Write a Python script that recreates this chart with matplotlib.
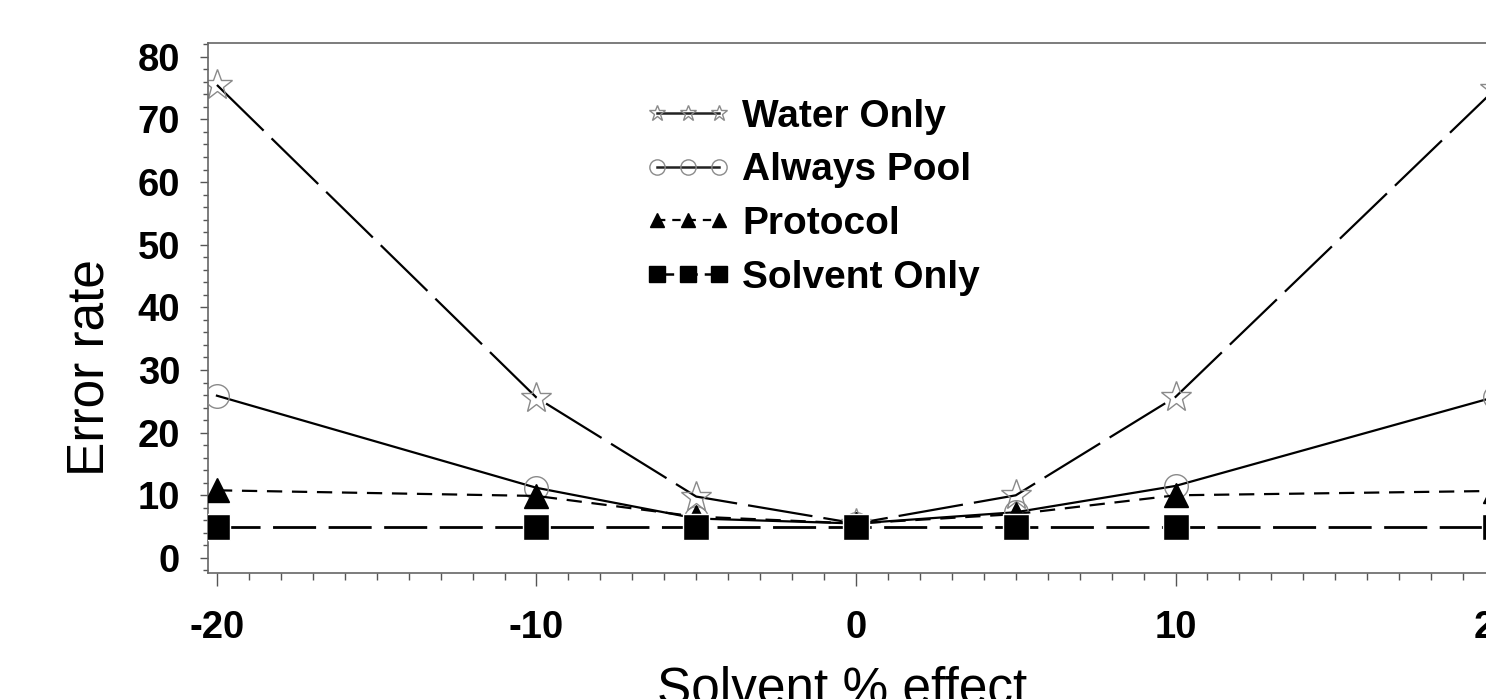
import matplotlib
matplotlib.use("Agg")
import matplotlib.pyplot as plt
from matplotlib.lines import Line2D
from matplotlib.ticker import MultipleLocator

plt.rcParams['font.family'] = ['Liberation Sans', 'DejaVu Sans']
plt.rcParams['axes.unicode_minus'] = False
plt.rcParams['lines.scale_dashes'] = False

# ---- data ----
solvent_effect = [-20, -10, -5, 0, 5, 10, 20]
water_only = [75.5, 25.6, 9.8, 5.5, 10.0, 25.7, 74.8]
always_pool = [25.9, 11.2, 6.3, 5.5, 7.3, 11.5, 25.7]
protocol = [10.8, 9.9, 6.6, 5.5, 7.0, 10.0, 10.7]
solvent_only = [5, 5, 5, 5, 5, 5, 5]
series_labels = ['Water Only', 'Always Pool', 'Protocol', 'Solvent Only']
x_major_ticks = [-20, -10, 0, 10, 20]
y_major_ticks = [0, 10, 20, 30, 40, 50, 60, 70, 80]

W, H = 1486, 699
fig = plt.figure(figsize=(W / 100, H / 100), dpi=100)
ax = fig.add_axes([208 / W, (H - 573) / H, 1303 / W, (573 - 43) / H])

gray = '#8a8a8a'
ax.plot(solvent_effect, water_only, color='black', lw=1.6, dashes=(47, 8),
        marker='*', ms=23, mfc='none', mec=gray, mew=1.0, zorder=2)
ax.plot(solvent_effect, always_pool, color='black', lw=1.6, linestyle='-',
        marker='o', ms=17, mfc='none', mec=gray, mew=1.0, zorder=3)
ax.plot(solvent_effect, protocol, color='black', lw=1.6, dashes=(11, 7),
        marker='^', ms=17, mfc='black', mec='black', zorder=4)
ax.plot(solvent_effect, solvent_only, color='black', lw=2.0, dashes=(31, 9),
        marker='s', ms=19, mfc='black', mec='white', mew=1.0, zorder=5)

ax.set_xlim(-20.28, 20.5)
ax.set_ylim(-2.4, 82.2)
ax.set_xticks(x_major_ticks)
ax.set_yticks(y_major_ticks)
ax.xaxis.set_minor_locator(MultipleLocator(1))
ax.yaxis.set_minor_locator(MultipleLocator(2))

ax.tick_params(axis='x', which='major', direction='out', length=9, width=1.0,
               colors='#555555', labelcolor='black', pad=18, labelsize=27.5)
ax.tick_params(axis='x', which='minor', direction='out', length=5, width=1.0,
               colors='#555555')
ax.tick_params(axis='y', which='major', direction='out', length=6, width=1.0,
               colors='#555555', labelcolor='black', pad=14, labelsize=27.5)
ax.tick_params(axis='y', which='minor', direction='out', length=3.5, width=1.0,
               colors='#555555')
for lab in ax.get_xticklabels() + ax.get_yticklabels():
    lab.set_fontweight('bold')

for sp in ax.spines.values():
    sp.set_color('#666666')
    sp.set_linewidth(1.2)

# legend proxies
handles = [
    Line2D([], [], color='#222222', lw=1.8, linestyle='-', marker='*', ms=12,
           mfc='none', mec=gray, mew=1.0),
    Line2D([], [], color='#222222', lw=1.8, linestyle='-', marker='o', ms=11,
           mfc='none', mec=gray, mew=1.0),
    Line2D([], [], color='black', lw=1.6, dashes=(6, 5), marker='^', ms=10,
           mfc='black', mec='black'),
    Line2D([], [], color='black', lw=1.8, dashes=(12, 5), marker='s', ms=11,
           mfc='black', mec='black'),
]
leg = ax.legend(handles, series_labels, loc='upper left',
                bbox_to_anchor=(645 / W, (H - 99) / H),
                bbox_transform=fig.transFigure, frameon=False, numpoints=3,
                borderpad=0, borderaxespad=0, handlelength=2.2,
                handletextpad=0.3, labelspacing=0.45,
                prop={'family': 'Liberation Sans', 'weight': 'bold', 'size': 28})

fig.text(90 / W, (H - 368) / H, 'Error rate', rotation=90, ha='center',
         va='center', fontsize=37)
fig.text(842 / W, -0.006, 'Solvent % effect', ha='center', va='baseline',
         fontsize=37)

fig.savefig('out.png', dpi=100)
